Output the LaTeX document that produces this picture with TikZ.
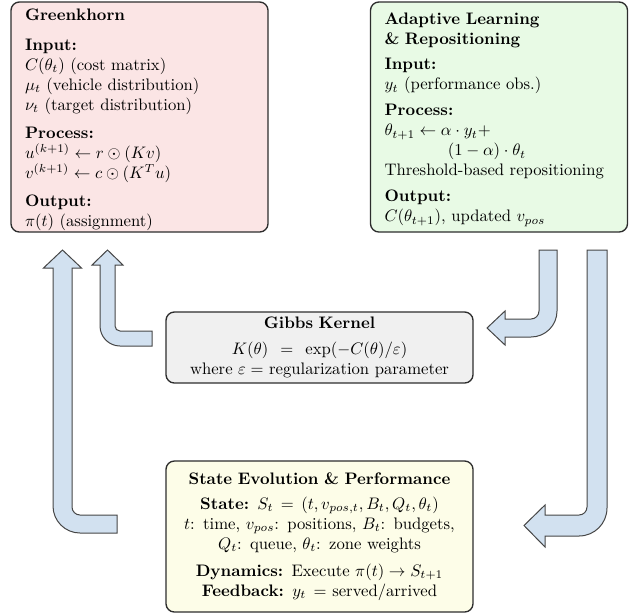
\documentclass[tikz,border=0pt]{standalone}
\usepackage{amsmath,amssymb}
\definecolor{gkfill}{RGB}{251,229,229}
\definecolor{alfill}{RGB}{232,250,229}
\definecolor{gbfill}{RGB}{240,240,240}
\definecolor{stfill}{RGB}{253,253,232}
\definecolor{arrfill}{RGB}{210,225,240}
\definecolor{edgecol}{RGB}{45,45,45}
\definecolor{arredge}{RGB}{70,70,70}
\begin{document}
\begin{tikzpicture}[x=0.6pt,y=-0.6pt,
 box/.style={draw=edgecol, line width=0.8pt, rounded corners=5pt, font=\normalsize},
 sidebox/.style={box, text width=137.4pt, inner xsep=8.4pt, inner ysep=0pt, minimum height=138pt, align=left},
 midbox/.style={box, text width=170pt, inner xsep=7.1pt, inner ysep=0pt, align=center},
 fatarrow/.style={fill=arrfill, draw=arredge, line width=0.6pt, line join=miter}]
\useasboundingbox (0,0) rectangle (635,614);

\node[sidebox, fill=gkfill] (gk) at (139.5,117) {\rule{0pt}{9.8pt}\textbf{Greenkhorn}\\[6pt]
\textbf{Input:}\\
$C(\theta_t)$ (cost matrix)\\
$\mu_t$ (vehicle distribution)\\
$\nu_t$ (target distribution)\\[4.8pt]
\textbf{Process:}\\
$u^{(k+1)} \leftarrow r \odot (Kv)$\\
$v^{(k+1)} \leftarrow c \odot (K^T u)$\\[4.8pt]
\textbf{Output:}\\
$\pi(t)$ (assignment)};

\node[sidebox, fill=alfill] (al) at (499,117) {\rule{0pt}{10.5pt}\textbf{Adaptive Learning}\\
\textbf{\& Repositioning}\\[3pt]
\textbf{Input:}\\
$y_t$ (performance obs.)\\[3.6pt]
\textbf{Process:}\\
$\theta_{t+1} \leftarrow \alpha \cdot y_t +$\\
\hspace*{38pt}$(1-\alpha)\cdot\theta_t$\\
Threshold-based repositioning\\[3.6pt]
\textbf{Output:}\\
$C(\theta_{t+1})$, updated $v_{pos}$};

\node[midbox, fill=gbfill, minimum height=42.6pt] (gb) at (319.5,347.5) {\textbf{Gibbs Kernel}\\[3.6pt]
\mbox{$K(\theta) \mkern8mu = \mkern8mu \exp(-C(\theta)/\varepsilon)$}\\
where \mbox{$\varepsilon =$} regularization parameter};

\node[midbox, fill=stfill, minimum height=90.6pt] (st) at (319.5,536.5) {\textbf{State Evolution \& Performance}\\[3pt]
\textbf{State:} \mbox{$S_t \mkern3mu = \mkern3mu (t, v_{pos,t}, B_t, Q_t, \theta_t)$}\\
$t$: time, $v_{pos}$: positions, $B_t$: budgets,\\
$Q_t$: queue, $\theta_t$: zone weights\\[4.2pt]
\textbf{Dynamics:} Execute \mbox{$\pi(t) \rightarrow S_{t+1}$}\\
\textbf{Feedback:} \mbox{$y_t \mkern3mu =$} served/arrived};

% state -> greenkhorn
\draw[fatarrow] (62.5,250) -- (81.5,268) -- (72,268) -- (72,507) .. controls (72,511.4) and (75.6,515) .. (80,515) -- (117,515) -- (117,533) -- (80,533) .. controls (65.1,533) and (53,520.9) .. (53,506) -- (53,268) -- (43.5,268) -- cycle;
% gibbs -> greenkhorn
\draw[fatarrow] (107.5,250) -- (123,265) -- (115,265) -- (115,326) .. controls (115,328.8) and (117.2,331) .. (120,331) -- (152,331) -- (152,346) -- (120,346) .. controls (109,346) and (100,337) .. (100,326) -- (100,265) -- (92,265) -- cycle;
% adaptive -> gibbs
\draw[fatarrow] (539,250) -- (557,250) -- (557,311) .. controls (557,325.4) and (545.4,337) .. (531,337) -- (505,337) -- (505,345) -- (487,328) -- (505,311) -- (505,319) -- (531,319) .. controls (535.4,319) and (539,315.4) .. (539,311) -- cycle;
% adaptive -> state
\draw[fatarrow] (587,250) -- (607,250) -- (607,508) .. controls (607,523.5) and (594.5,536) .. (579,536) -- (545,536) -- (545,547) -- (524,525.5) -- (545,505) -- (545,515) -- (579,515) .. controls (583.4,515) and (587,511.4) .. (587,507) -- cycle;
\end{tikzpicture}
\end{document}
